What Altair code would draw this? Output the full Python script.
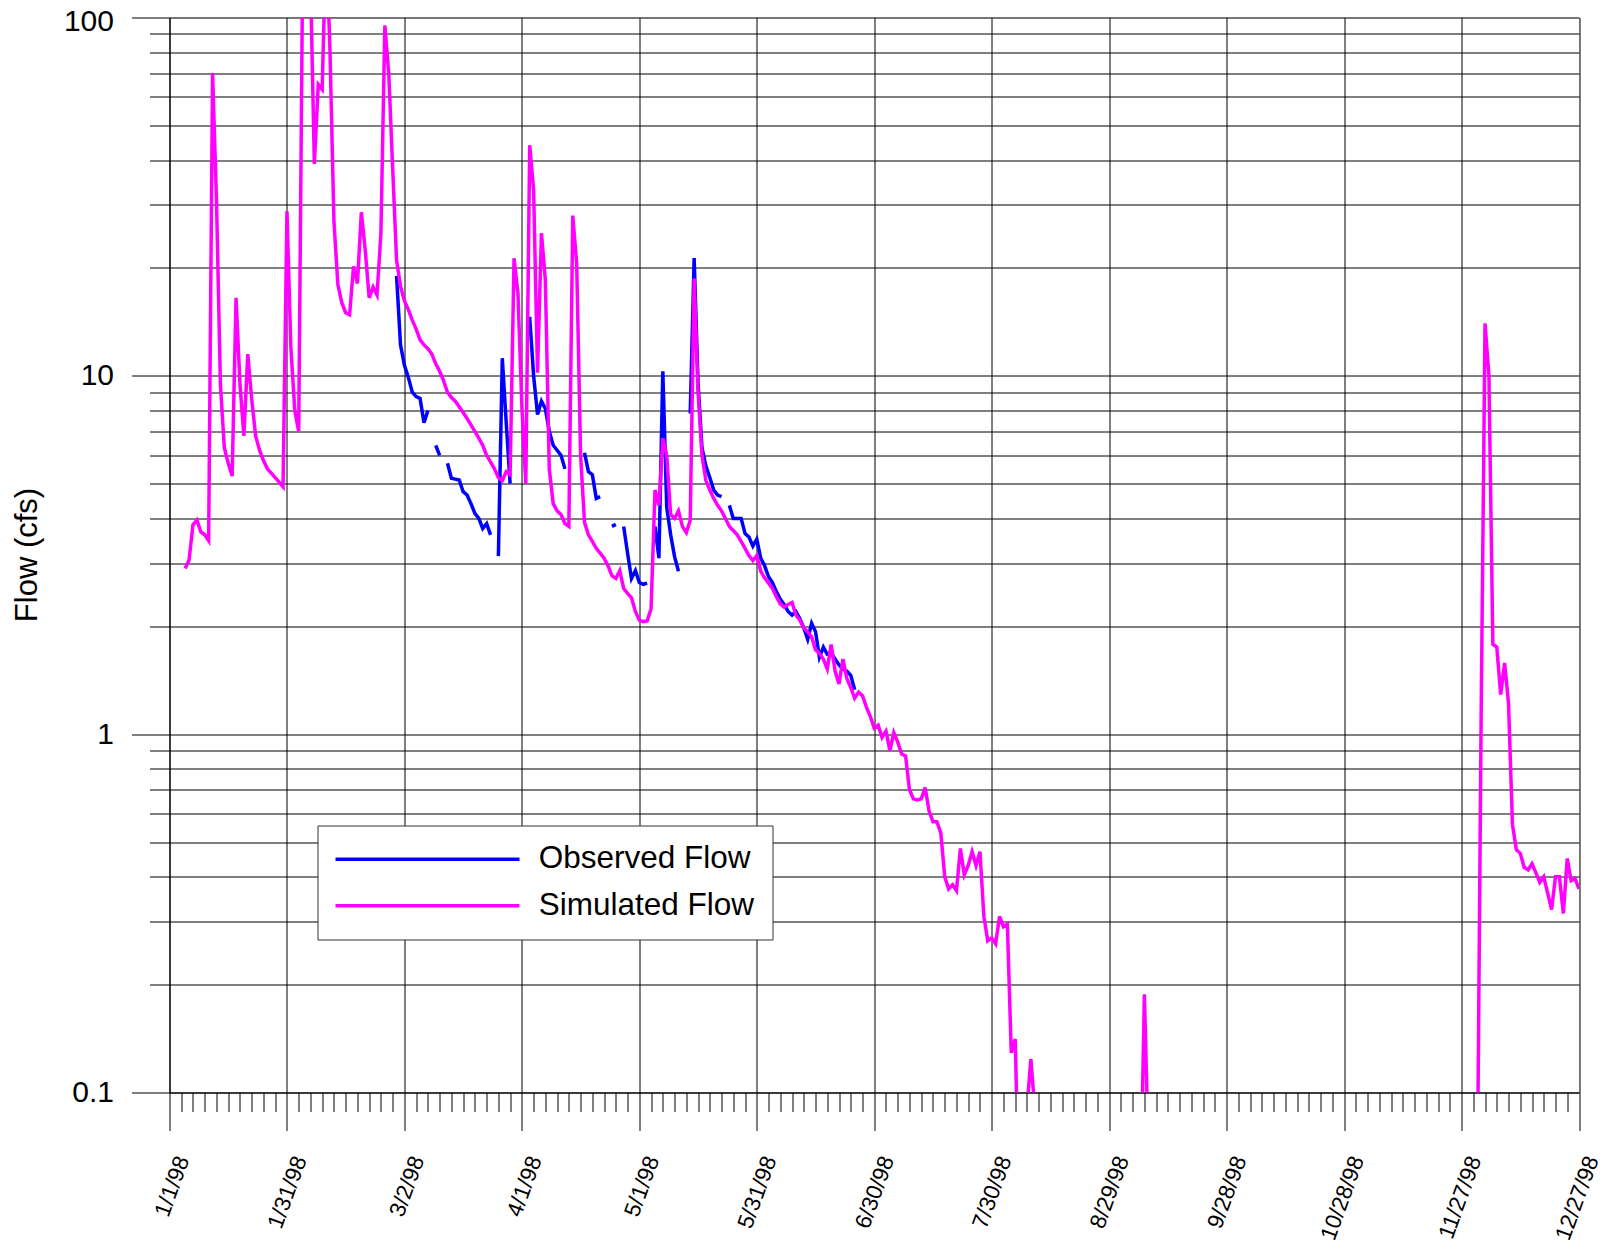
import json
import altair as alt
import pandas as pd

# ---------------- data ----------------
# Daily flows in cfs; each run = (first day offset from 1/1/98, values for consecutive days)
sim_run1_start = 4
sim_run1 = [
    2.9, 3.06, 3.84, 3.96, 3.67, 3.6, 3.47, 70, 31, 9.5,            # 4-13
    6.3, 5.7, 5.25, 16.5, 9.5, 6.8, 11.5, 8.6, 6.8, 6.2,            # 14-23
    5.8, 5.5, 5.35, 5.2, 5.05, 4.9, 28.8, 12, 8.0, 7.0,             # 24-33
    135, 180, 130, 39, 65, 63, 170, 80, 27, 18,                     # 34-43
    16, 15, 14.8, 20.2, 18.1, 28.6, 22.4, 16.5, 17.7, 16.8,         # 44-53
    25, 95, 70, 38, 21, 17.8, 16.2, 15.3, 14.3, 13.5,               # 54-63
    12.6, 12.2, 11.9, 11.5, 10.8, 10.3, 9.7, 9.0, 8.7, 8.5,         # 64-73
    8.2, 7.9, 7.6, 7.3, 7.0, 6.7, 6.4, 6.0, 5.75, 5.5,              # 74-83
    5.2, 5.1, 5.4, 5.3, 21.3, 17, 8.2, 5.0, 44, 33,                 # 84-93
    10.2, 25, 18.5, 5.5, 4.4, 4.2, 4.1, 3.87, 3.8, 28,              # 94-103
    20.6, 6.0, 3.9, 3.6, 3.45, 3.3, 3.2, 3.1, 2.95, 2.77,           # 104-113
    2.72, 2.86, 2.55, 2.47, 2.40, 2.2, 2.08, 2.06, 2.07, 2.24,      # 114-123
    4.8, 4.35, 6.7, 6.0, 4.1, 4.0, 4.2, 3.8, 3.65, 3.95,            # 124-133
    18.7, 9.0, 6.0, 5.1, 4.8, 4.55, 4.35, 4.2, 4.0, 3.8,            # 134-143
    3.7, 3.6, 3.45, 3.3, 3.15, 3.05, 3.15, 2.85, 2.73, 2.64,        # 144-153
    2.55, 2.42, 2.31, 2.26, 2.3, 2.33, 2.15, 2.08, 1.98, 1.93,      # 154-163
    1.87, 1.72, 1.68, 1.62, 1.52, 1.78, 1.5, 1.38, 1.62, 1.43,      # 164-173
    1.35, 1.26, 1.31, 1.28, 1.19, 1.12, 1.04, 1.06, 0.98, 1.02,     # 174-183
    0.90, 1.01, 0.95, 0.88, 0.87, 0.70, 0.66, 0.655, 0.66, 0.71,    # 184-193
    0.61, 0.57, 0.57, 0.53, 0.40, 0.37, 0.38, 0.366, 0.48, 0.405,   # 194-203
    0.43, 0.47, 0.43, 0.47, 0.31, 0.265, 0.27, 0.26, 0.31, 0.29,    # 204-213
    0.295, 0.129, 0.141, 0.05, 0.05, 0.09, 0.124, 0.09,             # 214-221
]
sim_run2_start = 248
sim_run2 = [0.05, 0.188, 0.07]
sim_run3_start = 334
sim_run3 = [
    0.05, 1.1, 14, 10, 1.78, 1.75, 1.29, 1.58, 1.22, 0.56,
    0.476, 0.465, 0.425, 0.418, 0.435, 0.41, 0.386, 0.40, 0.36, 0.324,
    0.40, 0.40, 0.316, 0.45, 0.39, 0.395, 0.37,
]

obs_runs = [
    (58, [19.0, 12.2, 10.7, 9.9, 9.0, 8.75, 8.65, 7.4, 8.0]),
    (68, [6.4, 6.0]),
    (71, [5.7, 5.18, 5.15, 5.12, 4.75, 4.65, 4.4, 4.13, 4.0, 3.75, 3.87, 3.6]),
    (84, [3.14, 11.2, 7.4, 5.0]),
    (92, [14.6, 10.0, 7.8, 8.5, 8.1, 7.0, 6.4, 6.2, 6.0, 5.5]),
    (106, [6.1, 5.4, 5.3, 4.55, 4.6]),
    (113, [3.8, 3.85]),
    (116, [3.8, 3.2, 2.72, 2.86, 2.65, 2.62, 2.64]),
    (124, [3.8, 3.1, 10.3, 4.3, 3.6, 3.13, 2.85]),
    (133, [7.85, 21.3, 9.5, 6.3, 5.6, 5.2, 4.8, 4.65, 4.6]),
    (143, [4.35, 4.0, 4.0, 4.0, 3.63, 3.55, 3.35, 3.5, 3.1, 2.95, 2.75, 2.65,
           2.5, 2.38, 2.3, 2.2, 2.15, 2.2, 2.1, 1.98, 1.84, 2.04, 1.93, 1.64,
           1.75, 1.67, 1.68, 1.62, 1.56, 1.52, 1.5, 1.46, 1.33]),
]

series_names = ["Observed Flow", "Simulated Flow"]
series_colors = ["#0000FF", "#FF00FF"]
x_tick_labels = ["1/1/98", "1/31/98", "3/2/98", "4/1/98", "5/1/98", "5/31/98",
                 "6/30/98", "7/30/98", "8/29/98", "9/28/98", "10/28/98",
                 "11/27/98", "12/27/98"]
y_major = [0.1, 1, 10, 100]

# ---------------- table ----------------
base = pd.Timestamp("1998-01-01")
rows = []
sim_runs = [(sim_run1_start, sim_run1), (sim_run2_start, sim_run2), (sim_run3_start, sim_run3)]
for name, runs in (("Observed Flow", obs_runs), ("Simulated Flow", sim_runs)):
    for k, (start, vals) in enumerate(runs):
        for i, v in enumerate(vals):
            rows.append({
                "date": (base + pd.Timedelta(days=start + i)).strftime("%Y-%m-%d"),
                "flow": v,
                "series": name,
                "seg": f"{name}-{k}",
            })
df = pd.DataFrame(rows)

# ---------------- axes ----------------
DAY = 86400000
T0 = 883612800000  # 1998-01-01 UTC in ms
x_values = [T0 + 3 * k * DAY for k in range(121)]
X_MAJOR = f"((datum.value - {T0}) % {30 * DAY} == 0)"
x_label_expr = (f"{X_MAJOR} ? {json.dumps(x_tick_labels)}"
                f"[round((datum.value - {T0}) / {30 * DAY})] : ''")

y_values = [m * 10.0 ** e for e in (-1, 0, 1) for m in range(1, 10)] + [100]
Y_MAJOR = "(" + " || ".join(f"datum.value == {v}" for v in y_major) + ")"

FONT = "Liberation Sans"
LINE_W = 3.5

x_axis = alt.Axis(
    values=x_values,
    labelExpr=x_label_expr,
    tickSize={"condition": {"test": X_MAJOR, "value": 38}, "value": 19},
    gridOpacity={"condition": {"test": X_MAJOR, "value": 1}, "value": 0},
    grid=True, gridColor="#000000", gridWidth=1,
    tickColor="#000000", tickWidth=1,
    domainColor="#000000", domainWidth=1,
    labelAngle=290, labelAlign="right", labelBaseline="middle",
    labelFontSize=22.5, labelFont=FONT, labelColor="#000000",
    labelPadding=26, labelOffset=13,
    labelOverlap=False, labelFlush=False, labelBound=False,
    title=None,
)

y_axis = alt.Axis(
    values=y_values,
    format="~g",
    labelExpr=f"{Y_MAJOR} ? datum.label : ''",
    tickSize={"condition": {"test": Y_MAJOR, "value": 38}, "value": 20},
    grid=True, gridColor="#000000", gridWidth=1,
    tickColor="#000000", tickWidth=1,
    domainColor="#000000", domainWidth=1,
    labelFontSize=30, labelFont=FONT, labelColor="#000000",
    labelPadding=18, labelOverlap=False, labelFlush=False,
    labelOffset={"condition": {"test": "datum.value == 100", "value": 3.5}, "value": 0},
    title="Flow (cfs)", titleFontSize=31, titleFont=FONT, titleFontWeight="normal",
    titleColor="#000000", titleAngle=270, titleX=-142, titleY=537,
    titleAlign="center", titleBaseline="middle",
)

x_enc = alt.X(
    "date:T",
    scale=alt.Scale(type="utc",
                    domain=[alt.DateTime(year=1998, month=1, date=1, utc=True),
                            alt.DateTime(year=1998, month=12, date=27, utc=True)],
                    nice=False),
    axis=x_axis,
)
y_enc = alt.Y(
    "flow:Q",
    scale=alt.Scale(type="log", domain=[0.1, 100], nice=False),
    axis=y_axis,
)
color_enc = alt.Color(
    "series:N",
    scale=alt.Scale(domain=series_names, range=series_colors),
    legend=alt.Legend(
        orient="none", legendX=148, legendY=808, title=None,
        symbolType="M-9.2,0H9.2", symbolSize=400, symbolStrokeWidth=LINE_W,
        symbolOffset=76.25, labelOffset=95.5,
        labelFontSize=31.5, labelFont=FONT, labelColor="#000000", labelLimit=0,
        padding=18, rowPadding=13.5,
        strokeColor="#333333", fillColor="#FFFFFF", cornerRadius=0,
    ),
)

base_chart = alt.Chart(df)
obs_layer = base_chart.transform_filter(alt.datum.series == "Observed Flow").mark_line(
    strokeWidth=LINE_W, clip=True
).encode(x=x_enc, y=y_enc, color=color_enc, detail="seg:N")
sim_layer = base_chart.transform_filter(alt.datum.series == "Simulated Flow").mark_line(
    strokeWidth=LINE_W, clip=True
).encode(x=x_enc, y=y_enc, color=color_enc, detail="seg:N")

chart = alt.layer(obs_layer, sim_layer).properties(
    width=1409.5,
    height=1075,
    padding={"left": 161.5, "top": 9.5, "right": 24, "bottom": 150},
    autosize=alt.AutoSizeParams(type="none"),
).configure_view(stroke=None).configure(font=FONT)

chart.save("out.html", embed_options={"renderer": "svg", "actions": False})
